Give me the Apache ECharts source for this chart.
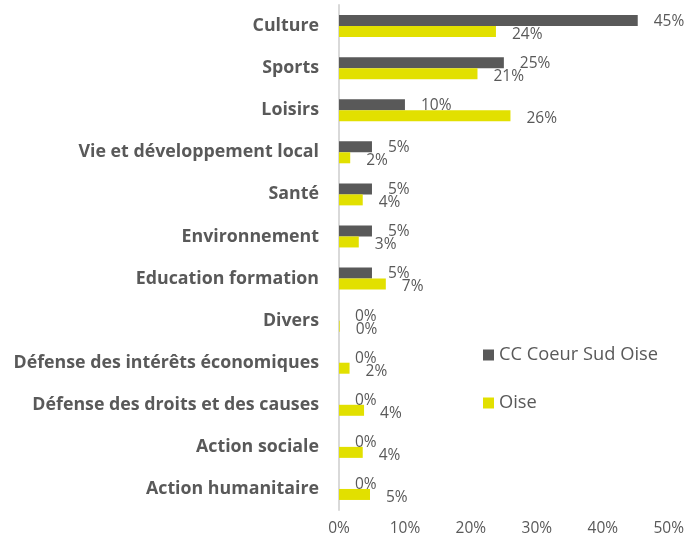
<!DOCTYPE html>
<html>
<head>
<meta charset="utf-8">
<script src="https://cdn.jsdelivr.net/npm/echarts@6/dist/echarts.min.js"></script>
<style>
  html, body { margin: 0; padding: 0; background: #fff; }
  #chart { width: 687px; height: 543px; }
</style>
</head>
<body>
<div id="chart"></div>
<script>
var categories = [
    'Culture', 'Sports', 'Loisirs', 'Vie et développement local', 'Santé',
    'Environnement', 'Education formation', 'Divers',
    'Défense des intérêts économiques', 'Défense des droits et des causes',
    'Action sociale', 'Action humanitaire'
];
var seriesNames = ['CC Coeur Sud Oise', 'Oise'];
var ccValues = [45.3, 25, 10, 5, 5, 5, 5, 0, 0, 0, 0, 0];
var oiseValues = [23.8, 21, 26, 1.7, 3.6, 3, 7.1, 0.1, 1.6, 3.8, 3.6, 4.7];
var tickValues = [0, 10, 20, 30, 40, 50];

(function () {
    var textColor = '#595959';
    var chart = echarts.init(document.getElementById('chart'));

    function pct(p) {
        return Math.round(p.value) + '%';
    }

    var option = {
        animation: false,
        grid: { left: 339, right: 18, top: 5, bottom: 33, containLabel: false },
        legend: {
            data: seriesNames,
            orient: 'vertical',
            left: 483,
            top: 346,
            padding: 0,
            itemWidth: 11,
            itemHeight: 11,
            itemGap: 30,
            icon: 'rect',
            textStyle: { color: textColor, fontSize: 18.3, fontFamily: 'Open Sans' }
        },
        xAxis: {
            type: 'value',
            min: tickValues[0],
            max: tickValues[tickValues.length - 1],
            interval: 10,
            splitLine: { show: false },
            axisLine: { show: false },
            axisTick: { show: false },
            axisLabel: {
                color: textColor,
                fontSize: 15.5,
                fontFamily: 'Open Sans',
                margin: 11,
                formatter: '{value}%'
            }
        },
        yAxis: {
            type: 'category',
            data: categories,
            inverse: true,
            axisLine: { show: true, lineStyle: { color: '#d9d9d9', width: 2 } },
            axisTick: { show: false },
            axisLabel: {
                color: textColor,
                fontSize: 17.8,
                fontWeight: 'bold',
                fontFamily: 'Open Sans',
                margin: 20
            }
        },
        series: [
            {
                name: seriesNames[0],
                type: 'bar',
                data: ccValues,
                barWidth: 11,
                barGap: '0%',
                itemStyle: { color: '#595959' },
                label: {
                    show: true,
                    position: 'right',
                    distance: 16,
                    offset: [0, 1],
                    color: textColor,
                    fontSize: 15.5,
                    fontFamily: 'Open Sans',
                    formatter: pct
                }
            },
            {
                name: seriesNames[1],
                type: 'bar',
                data: oiseValues,
                barWidth: 11,
                barGap: '0%',
                itemStyle: { color: '#e2e000' },
                label: {
                    show: true,
                    position: 'right',
                    distance: 16,
                    offset: [0, 3],
                    color: textColor,
                    fontSize: 15.5,
                    fontFamily: 'Open Sans',
                    formatter: pct
                }
            }
        ]
    };

    option && chart.setOption(option);
})();
</script>
</body>
</html>
